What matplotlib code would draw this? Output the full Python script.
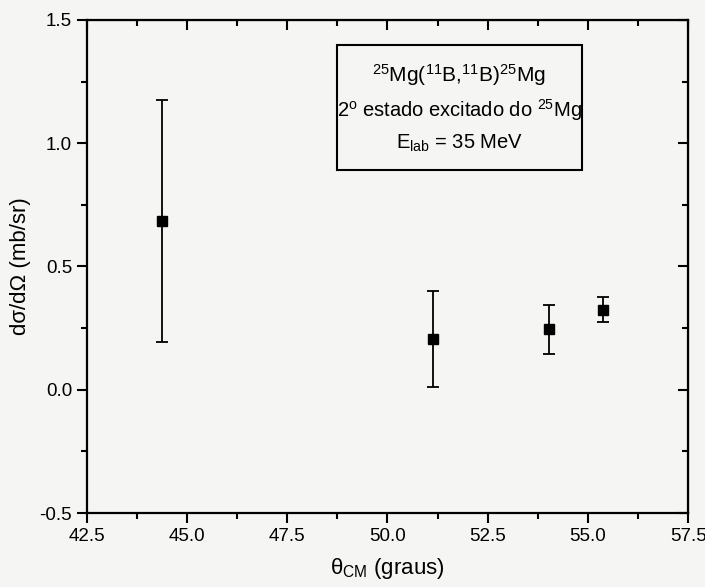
import matplotlib
matplotlib.use("Agg")
import matplotlib.pyplot as plt
from matplotlib.patches import Rectangle
from matplotlib.ticker import MultipleLocator

plt.rcParams['font.family'] = ['Liberation Sans', 'DejaVu Sans']
plt.rcParams['mathtext.default'] = 'regular'

# data
theta_cm = [44.37, 51.13, 54.02, 55.38]
dsigma = [0.685, 0.205, 0.245, 0.325]
dsigma_err = [0.49, 0.195, 0.10, 0.05]

x_ticks = [42.5, 45.0, 47.5, 50.0, 52.5, 55.0, 57.5]
y_ticks = [-0.5, 0.0, 0.5, 1.0, 1.5]

bg = '#f5f5f3'
fig = plt.figure(figsize=(7.05, 5.87), dpi=100, facecolor=bg)
ax = fig.add_axes([0.123, 0.126, 0.853, 0.840])
ax.set_facecolor(bg)

ax.errorbar(theta_cm, dsigma, yerr=dsigma_err, fmt='s', color='black',
            markersize=6.5, elinewidth=1.3, capsize=4, capthick=1.3)

ax.set_xlim(42.5, 57.5)
ax.set_ylim(-0.5, 1.5)
ax.set_xticks(x_ticks)
ax.set_xticklabels([f"{t:.1f}" for t in x_ticks])
ax.set_yticks(y_ticks)
ax.set_yticklabels([f"{t:.1f}" for t in y_ticks])
ax.xaxis.set_minor_locator(MultipleLocator(1.25))
ax.yaxis.set_minor_locator(MultipleLocator(0.25))
ax.tick_params(which='major', direction='out', length=7, width=1.5, labelsize=13.5)
ax.tick_params(which='minor', direction='out', length=4, width=1.5)
for s in ax.spines.values():
    s.set_linewidth(1.6)

# opposite axes: ticks pointing into the plot, no labels
top = ax.secondary_xaxis('top')
top.set_xticks(x_ticks)
top.xaxis.set_minor_locator(MultipleLocator(1.25))
top.tick_params(which='major', direction='in', length=7, width=1.5, labeltop=False)
top.tick_params(which='minor', direction='in', length=4, width=1.5)
right = ax.secondary_yaxis('right')
right.set_yticks(y_ticks)
right.yaxis.set_minor_locator(MultipleLocator(0.25))
right.tick_params(which='major', direction='in', length=7, width=1.5, labelright=False)
right.tick_params(which='minor', direction='in', length=4, width=1.5)

ax.set_xlabel(r'$\theta_{CM}$ (graus)', fontsize=16, labelpad=8)
ax.set_ylabel('dσ/dΩ (mb/sr)', fontsize=16, labelpad=6)

ax.add_patch(Rectangle((0.416, 0.696), 0.408, 0.253, transform=ax.transAxes,
                       fill=False, edgecolor='black', linewidth=1.5))
ax.text(0.62, 0.888, '$^{25}$Mg($^{11}$B,$^{11}$B)$^{25}$Mg', transform=ax.transAxes,
        ha='center', va='center', fontsize=15)
ax.text(0.62, 0.817, '2$^{o}$ estado excitado do $^{25}$Mg', transform=ax.transAxes,
        ha='center', va='center', fontsize=14.5)
ax.text(0.62, 0.750, 'E$_{lab}$ = 35 MeV', transform=ax.transAxes,
        ha='center', va='center', fontsize=14.5)

fig.savefig('out.png', dpi=100, facecolor=bg)
